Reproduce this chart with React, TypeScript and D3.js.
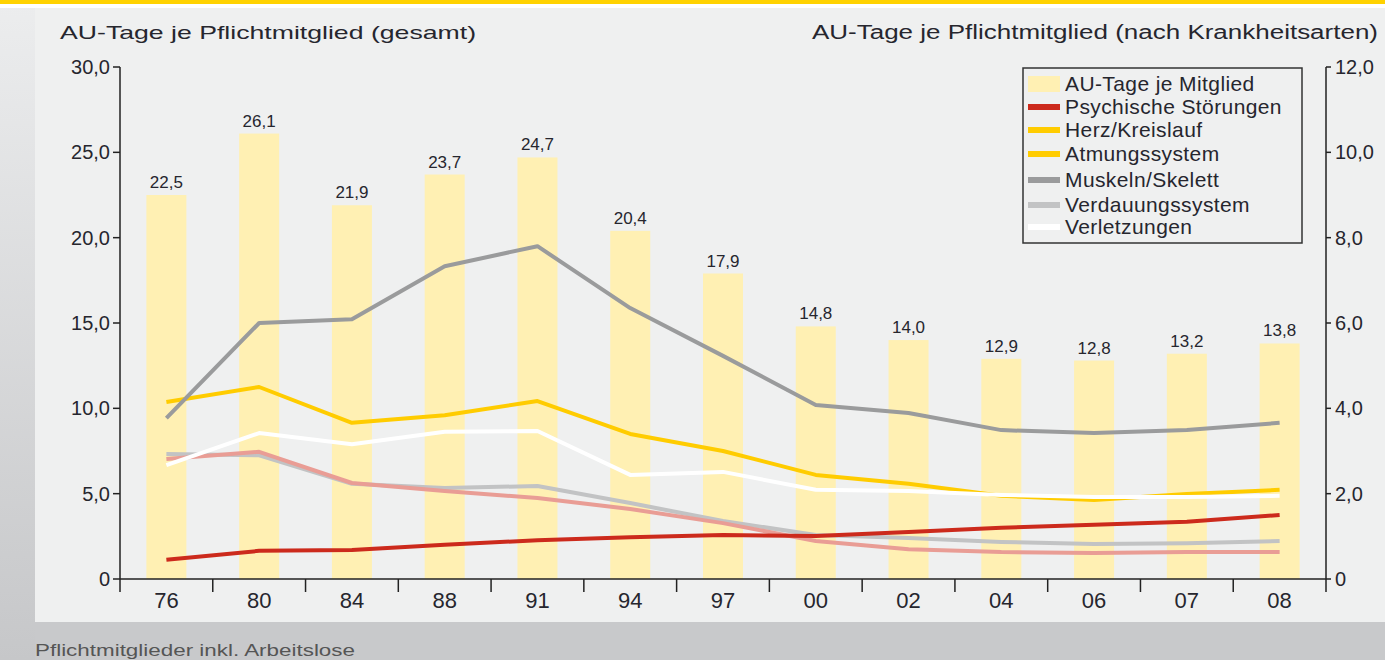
import React from "react";
import * as d3 from "d3";

// years on the x axis
const years = ["76", "80", "84", "88", "91", "94", "97", "00", "02", "04", "06", "07", "08"];

// AU-Tage je Mitglied (left axis, bars)
const auTage = [22.5, 26.1, 21.9, 23.7, 24.7, 20.4, 17.9, 14.8, 14.0, 12.9, 12.8, 13.2, 13.8];

// disease groups (right axis, lines)
const psychisch = [0.45, 0.66, 0.68, 0.8, 0.91, 0.98, 1.03, 1.01, 1.1, 1.2, 1.27, 1.34, 1.5];
const herzKreislauf = [4.15, 4.5, 3.66, 3.84, 4.17, 3.4, 3.0, 2.44, 2.23, 1.95, 1.85, 1.99, 2.09];
const atmung = [2.81, 2.98, 2.25, 2.06, 1.9, 1.64, 1.31, 0.89, 0.7, 0.63, 0.61, 0.63, 0.63];
const muskeln = [3.77, 6.0, 6.09, 7.33, 7.8, 6.35, 5.23, 4.08, 3.89, 3.49, 3.42, 3.49, 3.66];
const verdauung = [2.93, 2.9, 2.23, 2.13, 2.18, 1.78, 1.36, 1.03, 0.96, 0.87, 0.82, 0.84, 0.89];
const verletzung = [2.67, 3.42, 3.16, 3.45, 3.47, 2.44, 2.51, 2.09, 2.06, 1.97, 1.92, 1.92, 1.95];

const leftTicks = [0, 5, 10, 15, 20, 25, 30];
const rightTicks = [0, 2, 4, 6, 8, 10, 12];

const fmt = (v: number) => (v === 0 ? "0" : v.toFixed(1).replace(".", ","));

const W = 1385;
const H = 660;
const x0 = 120;
const x1 = 1326;
const yTop = 67;
const yBot = 579;
const textCol = "#26262e";
const font = "'Liberation Sans', Arial, sans-serif";
const narrow = "'Liberation Sans Narrow', 'Liberation Sans', Arial, sans-serif";

// draw order: back to front
const lines = [
  { name: "Verdauungssystem", values: verdauung, color: "#c2c3c4" },
  { name: "Atmungssystem", values: atmung, color: "#e99d95" },
  { name: "Psychische Störungen", values: psychisch, color: "#cc2a1c" },
  { name: "Herz/Kreislauf", values: herzKreislauf, color: "#ffcc00" },
  { name: "Verletzungen", values: verletzung, color: "#ffffff" },
  { name: "Muskeln/Skelett", values: muskeln, color: "#9a9b9c" },
];

const legendItems = [
  { label: "AU-Tage je Mitglied", color: "#fff0b3", bar: true },
  { label: "Psychische Störungen", color: "#cc2a1c" },
  { label: "Herz/Kreislauf", color: "#ffcc00" },
  { label: "Atmungssystem", color: "#ffcc00" },
  { label: "Muskeln/Skelett", color: "#9a9b9c" },
  { label: "Verdauungssystem", color: "#c2c3c4" },
  { label: "Verletzungen", color: "#ffffff" },
];
const legendRows = [84, 107, 130, 154, 180, 205, 227];

export default function App() {
  const x = d3.scaleBand<string>().domain(years).range([x0, x1]).padding(0);
  const yL = d3.scaleLinear().domain([0, 30]).range([yBot, yTop]);
  const yR = d3.scaleLinear().domain([0, 12]).range([yBot, yTop]);
  const barW = 40;
  const cx = (d: string) => (x(d) as number) + x.bandwidth() / 2;

  const line = d3
    .line<number>()
    .x((_, i) => cx(years[i]))
    .y((v) => yR(v));

  return (
    <svg
      width={W}
      height={H}
      style={{ position: "absolute", left: 0, top: 0, display: "block" }}
    >
      <defs>
        <linearGradient id="side" x1="0" y1="0" x2="0" y2="1">
          <stop offset="0" stopColor="#ecedee" />
          <stop offset="1" stopColor="#c6c7c9" />
        </linearGradient>
      </defs>
      <rect x={0} y={0} width={W} height={H} fill="#c8c9cb" />
      <rect x={0} y={0} width={35} height={H} fill="url(#side)" />
      <rect x={0} y={0} width={W} height={8} fill="#ffffff" />
      <rect x={0} y={0} width={W} height={4} fill="#ffd200" />
      <rect x={35} y={8} width={W - 35} height={614} fill="#eff0f0" />

      {/* headers */}
      <text x={60} y={39} fontFamily={font} fontSize={19} fill={textCol} textLength={416} lengthAdjust="spacingAndGlyphs">
        AU-Tage  je Pflichtmitglied (gesamt)
      </text>
      <text x={812} y={39} fontFamily={narrow} fontSize={20} fill={textCol} textLength={566} lengthAdjust="spacingAndGlyphs">
        AU-Tage je Pflichtmitglied (nach Krankheitsarten)
      </text>

      {/* bars */}
      {auTage.map((v, i) => (
        <g key={years[i]}>
          <rect x={cx(years[i]) - barW / 2} y={yL(v)} width={barW} height={yBot - yL(v)} fill="#fff0b3" />
          <text x={cx(years[i])} y={yL(v) - 7} textAnchor="middle" fontFamily={font} fontSize={17} fill={textCol}>
            {fmt(v)}
          </text>
        </g>
      ))}

      {/* lines */}
      {lines.map((s) => (
        <path key={s.name} d={line(s.values) || ""} fill="none" stroke={s.color} strokeWidth={4} strokeLinejoin="round" />
      ))}

      {/* left axis */}
      <line x1={x0} x2={x0} y1={yTop} y2={yBot + 13} stroke="#222" strokeWidth={1.5} />
      {leftTicks.map((t) => (
        <g key={t}>
          <line x1={x0 - 7} x2={x0} y1={yL(t)} y2={yL(t)} stroke="#222" strokeWidth={1.5} />
          <text x={x0 - 10} y={yL(t)} dy="0.35em" textAnchor="end" fontFamily={font} fontSize={20} fill={textCol}>
            {fmt(t)}
          </text>
        </g>
      ))}

      {/* right axis */}
      <line x1={x1} x2={x1} y1={yTop} y2={yBot + 13} stroke="#222" strokeWidth={1.5} />
      {rightTicks.map((t) => (
        <g key={t}>
          <line x1={x1} x2={x1 + 5} y1={yR(t)} y2={yR(t)} stroke="#222" strokeWidth={1.5} />
          <text x={x1 + 9} y={yR(t)} dy="0.35em" fontFamily={font} fontSize={20} fill={textCol}>
            {fmt(t)}
          </text>
        </g>
      ))}

      {/* x axis */}
      <line x1={x0} x2={x1} y1={yBot} y2={yBot} stroke="#222" strokeWidth={1.5} />
      {years.map((d, i) => (
        <g key={d}>
          {i > 0 && <line x1={x(d)} x2={x(d)} y1={yBot} y2={yBot + 13} stroke="#222" strokeWidth={1.5} />}
          <text x={cx(d)} y={608} textAnchor="middle" fontFamily={narrow} fontSize={22} fill={textCol}>
            {d}
          </text>
        </g>
      ))}

      {/* legend */}
      <rect x={1023} y={68} width={279} height={175} fill="#eff0f0" stroke="#333" strokeWidth={1.5} />
      {legendItems.map((it, i) => (
        <g key={it.label}>
          {it.bar ? (
            <rect x={1028} y={legendRows[i] - 8} width={32} height={16} fill={it.color} />
          ) : (
            <rect x={1028} y={legendRows[i] - 3} width={32} height={6} fill={it.color} />
          )}
          <text x={1065} y={legendRows[i]} dy="0.35em" fontFamily={font} fontSize={21} letterSpacing={0.4} fill={textCol}>
            {it.label}
          </text>
        </g>
      ))}

      {/* footnote */}
      <text x={35} y={656} fontFamily={narrow} fontSize={17} fill="#555" textLength={320} lengthAdjust="spacingAndGlyphs">
        Pflichtmitglieder inkl. Arbeitslose
      </text>
    </svg>
  );
}
